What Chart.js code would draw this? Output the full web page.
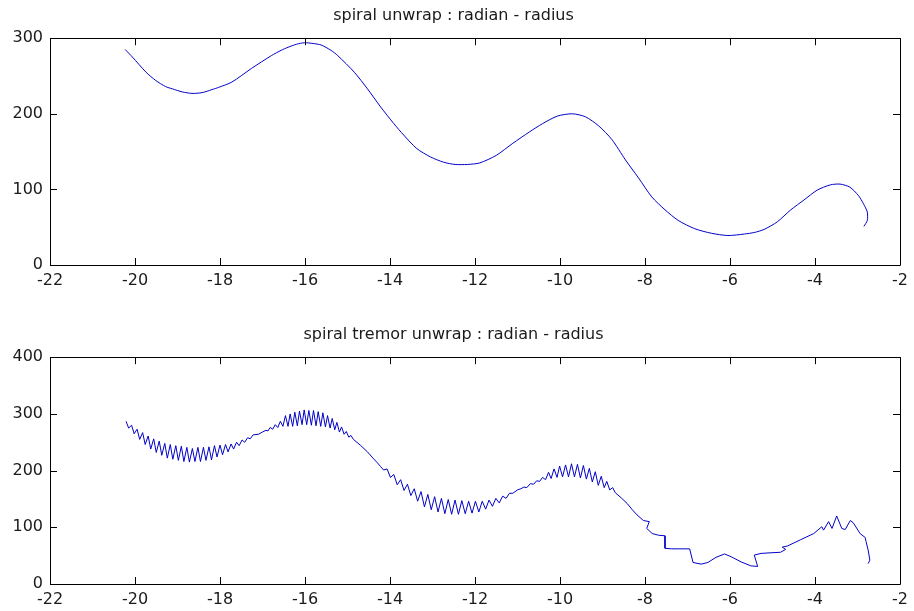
<!DOCTYPE html>
<html>
<head>
<meta charset="utf-8">
<script src="https://cdn.jsdelivr.net/npm/chart.js@4/dist/chart.umd.min.js"></script>
<style>
  body { margin: 0; background: #fff; }
  #wrap { position: relative; width: 914px; height: 611px; }
  canvas { position: absolute; left: 0; }
</style>
</head>
<body>
<div id="wrap">
  <canvas id="spiralChart" width="914" height="300" style="top:0"></canvas>
  <canvas id="tremorChart" width="914" height="311" style="top:300px"></canvas>
</div>
<script>
// titles
const topTitle = 'spiral unwrap : radian - radius';
const bottomTitle = 'spiral tremor unwrap : radian - radius';

// smooth spiral
const spiralRadian = [-20.23, -20.06, -19.74, -19.51, -19.28, -19.12, -18.89, -18.66, -18.42, -18.19,
  -18.03, -17.72, -17.26, -16.79, -16.56, -16.40, -16.20, -16.01, -15.81, -15.62,
  -15.39, -15.23, -14.84, -14.53, -14.22, -13.91, -13.68, -13.37, -13.05, -12.74,
  -12.47, -12.18, -11.89, -11.50, -11.11, -10.72, -10.41, -10.06, -9.71, -9.40,
  -9.09, -8.78, -8.46, -8.15, -7.84, -7.53, -7.22, -6.83, -6.44, -6.05,
  -5.66, -5.43, -5.20, -4.89, -4.57, -4.26, -3.95, -3.64, -3.41, -3.18,
  -2.98, -2.86, -2.77, -2.77, -2.85];
const spiralRadius = [285, 275, 255, 244, 236, 233, 229, 227, 228, 232,
  235, 242, 260, 277, 284, 288, 292, 294, 293, 291,
  284, 277, 255, 233, 209, 187, 172, 154, 143, 136,
  133, 133, 135, 145, 161, 176, 187, 197, 200, 196,
  184, 166, 139, 115, 90, 73, 59, 48, 42, 39,
  41, 43, 47, 57, 73, 86, 99, 106, 107, 103,
  92, 81, 70, 59, 51];

// spiral with tremor
const tremorRadian = [
  -20.21, -20.15, -20.08, -20.02, -19.95, -19.89, -19.82, -19.76, -19.69, -19.63,
  -19.56, -19.50, -19.43, -19.37, -19.30, -19.24, -19.17, -19.11, -19.04, -18.98,
  -18.91, -18.85, -18.78, -18.72, -18.65, -18.59, -18.52, -18.46, -18.39, -18.33,
  -18.26, -18.20, -18.13, -18.07, -18.00, -17.94, -17.87, -17.81, -17.74, -17.68,
  -17.61, -17.55, -17.48, -17.42, -17.35, -17.29, -17.22,
  -17.10, -17.00, -16.92, -16.87, -16.82, -16.76, -16.70, -16.64, -16.58, -16.52,
  -16.46, -16.40, -16.35, -16.29, -16.24, -16.18, -16.13, -16.07, -16.02, -15.96,
  -15.91, -15.85, -15.80, -15.74, -15.69, -15.63, -15.58, -15.52, -15.47, -15.41,
  -15.36, -15.30, -15.25, -15.19, -15.14, -15.08, -15.03, -14.97, -14.92, -14.86,
  -14.70, -14.53, -14.40, -14.30, -14.22,
  -14.15, -14.07, -13.99, -13.91, -13.83, -13.75, -13.67, -13.59, -13.51, -13.43,
  -13.35, -13.27, -13.19, -13.11, -13.03, -12.95, -12.87, -12.79, -12.71, -12.63,
  -12.55, -12.47, -12.39, -12.31, -12.23, -12.15, -12.07, -11.99, -11.91, -11.83,
  -11.75, -11.67, -11.59, -11.51, -11.43, -11.35, -11.27, -11.19, -11.11,
  -11.00, -10.92, -10.85, -10.78, -10.70, -10.62, -10.55, -10.48, -10.41,
  -10.34, -10.27, -10.21, -10.14, -10.07, -10.01, -9.94, -9.87, -9.80, -9.73,
  -9.66, -9.59, -9.52, -9.45, -9.38, -9.31, -9.24, -9.17, -9.10, -9.03,
  -8.96, -8.90, -8.83, -8.76, -8.70,
  -8.56, -8.42, -8.30, -8.19, -8.04, -7.90, -7.96, -7.83, -7.68, -7.53,
  -7.53, -7.38, -7.22, -6.95, -6.87, -6.68, -6.52, -6.33, -6.13, -5.97,
  -5.74, -5.51, -5.35, -5.43, -5.27, -4.81, -4.69, -4.77, -4.65, -4.34,
  -4.03, -3.84, -3.80, -3.68, -3.60, -3.49, -3.37, -3.29, -3.17, -3.10,
  -2.94, -2.82, -2.80, -2.75, -2.71, -2.75];
const tremorRadius = [
  287, 275, 280, 265, 273, 255, 267, 246, 261, 238,
  256, 232, 252, 227, 248, 222, 246, 220, 244, 218,
  243, 216, 241, 215, 239, 216, 241, 216, 241, 218,
  242, 219, 244, 224, 245, 228, 246, 233, 247, 238,
  250, 244, 254, 250, 258, 256, 263,
  264, 268, 271, 270, 276, 273, 281, 276, 287, 278,
  297, 278, 300, 278, 303, 279, 305, 281, 307, 281,
  306, 280, 306, 279, 304, 278, 302, 277, 297, 275,
  292, 272, 285, 268, 277, 264, 269, 259, 262, 255,
  245, 233, 222, 214, 207,
  201, 203, 188, 193, 175, 184, 165, 176, 156, 168,
  146, 163, 136, 158, 131, 154, 127, 151, 124, 149,
  123, 148, 123, 147, 124, 146, 125, 146, 127, 146,
  132, 148, 137, 151, 143, 155, 151, 160, 160,
  166, 168, 171, 170, 177, 176, 182, 181, 188,
  184, 197, 186, 203, 188, 208, 189, 210, 189, 212,
  189, 211, 187, 209, 185, 204, 180, 198, 174, 190,
  170, 181, 166, 170, 161,
  152, 142, 131, 122, 112, 110, 98, 89, 86, 85,
  63, 62, 62, 62, 38, 35, 38, 47, 53, 48,
  39, 32, 31, 51, 54, 56, 61, 65, 67, 78,
  89, 101, 95, 110, 98, 120, 98, 96, 112, 108,
  89, 82, 75, 60, 42, 36];

Chart.defaults.font.family = '"DejaVu Sans", sans-serif';
Chart.defaults.font.size = 16;
Chart.defaults.color = '#1a1a1a';

// matlab style box with ticks pointing inwards
const boxFrame = {
  id: 'boxFrame',
  afterDraw(chart) {
    const { ctx, chartArea: a, scales } = chart;
    const len = 7;
    ctx.save();
    ctx.strokeStyle = '#000';
    ctx.lineWidth = 1;
    ctx.beginPath();
    ctx.rect(Math.round(a.left) + 0.5, Math.round(a.top) + 0.5, Math.round(a.width), Math.round(a.height));
    scales.x.ticks.forEach(t => {
      const px = Math.round(scales.x.getPixelForValue(t.value)) + 0.5;
      ctx.moveTo(px, a.bottom); ctx.lineTo(px, a.bottom - len);
      ctx.moveTo(px, a.top); ctx.lineTo(px, a.top + len);
    });
    scales.y.ticks.forEach(t => {
      const py = Math.round(scales.y.getPixelForValue(t.value)) + 0.5;
      ctx.moveTo(a.left, py); ctx.lineTo(a.left + len, py);
      ctx.moveTo(a.right, py); ctx.lineTo(a.right - len, py);
    });
    ctx.stroke();
    ctx.restore();
  }
};

function makeChart(id, title, xs, ys, yMax, opts) {
  return new Chart(document.getElementById(id), {
    type: 'scatter',
    data: {
      datasets: [{
        data: xs.map((x, i) => ({ x: x, y: ys[i] })),
        showLine: true,
        borderColor: '#0000c8',
        borderWidth: 1,
        pointRadius: 0,
        tension: opts.tension
      }]
    },
    options: {
      responsive: false,
      animation: false,
      devicePixelRatio: 1,
      layout: { padding: { left: 0, right: 7, top: 0, bottom: 0 } },
      plugins: {
        legend: { display: false },
        tooltip: { enabled: false },
        title: {
          display: true,
          text: title,
          color: '#1a1a1a',
          font: { size: 16, weight: 'normal' },
          padding: opts.titlePad
        }
      },
      scales: {
        x: {
          type: 'linear', min: -22, max: -2,
          ticks: { stepSize: 2, padding: 6, maxRotation: 0, autoSkip: false },
          grid: { display: false, drawTicks: false },
          border: { display: false },
          afterFit: s => { s.height = opts.xHeight; }
        },
        y: {
          min: 0, max: yMax,
          ticks: { stepSize: 100, padding: 7 },
          grid: { display: false, drawTicks: false },
          border: { display: false },
          afterFit: s => { s.width = 50; }
        }
      }
    },
    plugins: [boxFrame]
  });
}

makeChart('spiralChart', topTitle, spiralRadian, spiralRadius, 300,
  { tension: 0.25, xHeight: 35, titlePad: { top: 6, bottom: 13 } });
makeChart('tremorChart', bottomTitle, tremorRadian, tremorRadius, 400,
  { tension: 0, xHeight: 27, titlePad: { top: 25, bottom: 13 } });
</script>
</body>
</html>
